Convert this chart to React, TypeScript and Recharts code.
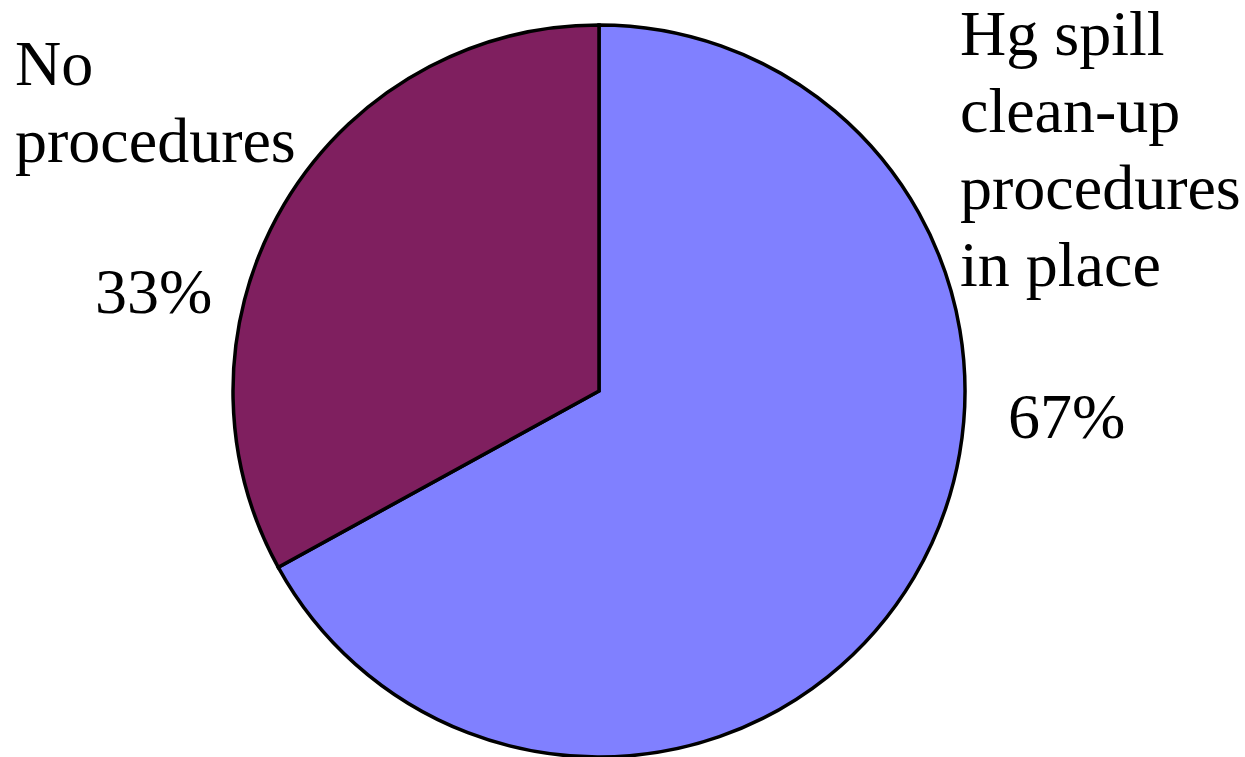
import React from "react";
import { PieChart, Pie, Cell } from "recharts";

const categories = ["Hg spill clean-up procedures in place", "No procedures"];
const shares = [67, 33];
const labelLines = [
  ["Hg spill", "clean-up", "procedures", "in place"],
  ["No", "procedures"],
];
const colors = ["#8080FF", "#7F1F5F"];

const data = categories.map((name, i) => ({ name, value: shares[i] }));

// label anchors relative to pie centre
const labelPos = [
  { x: 361, y: -336, pctX: 409, pctY: 47 },
  { x: -584, y: -306, pctX: -504, pctY: -78 },
];
const LINE_H = 77;
const FONT = "'Liberation Serif', 'Times New Roman', serif";

const renderLabel = (props: any) => {
  const { cx, cy, index } = props;
  const p = labelPos[index];
  return (
    <g key={`lbl-${index}`}>
      <text x={cx + p.x} y={cy + p.y} fontFamily={FONT} fontSize={64} fill="#000" textAnchor="start">
        {labelLines[index].map((t, i) => (
          <tspan key={i} x={cx + p.x} y={cy + p.y + i * LINE_H}>
            {t}
          </tspan>
        ))}
      </text>
      <text x={cx + p.pctX} y={cy + p.pctY} fontFamily={FONT} fontSize={64} fill="#000" textAnchor="start">
        {`${shares[index]}%`}
      </text>
    </g>
  );
};

export default function App() {
  return (
    <div style={{ position: "absolute", left: 0, top: 0, width: 1245, height: 757, background: "#fff" }}>
      <PieChart width={1245} height={757} margin={{ top: 0, right: 0, bottom: 0, left: 0 }}>
        <Pie
          data={data}
          dataKey="value"
          nameKey="name"
          cx={599}
          cy={391}
          outerRadius={366}
          startAngle={90}
          endAngle={-270}
          stroke="#000"
          strokeWidth={3.5}
          label={renderLabel}
          labelLine={false}
          isAnimationActive={false}
        >
          {data.map((d, i) => (
            <Cell key={`cell-${i}`} fill={colors[i]} />
          ))}
        </Pie>
      </PieChart>
    </div>
  );
}
